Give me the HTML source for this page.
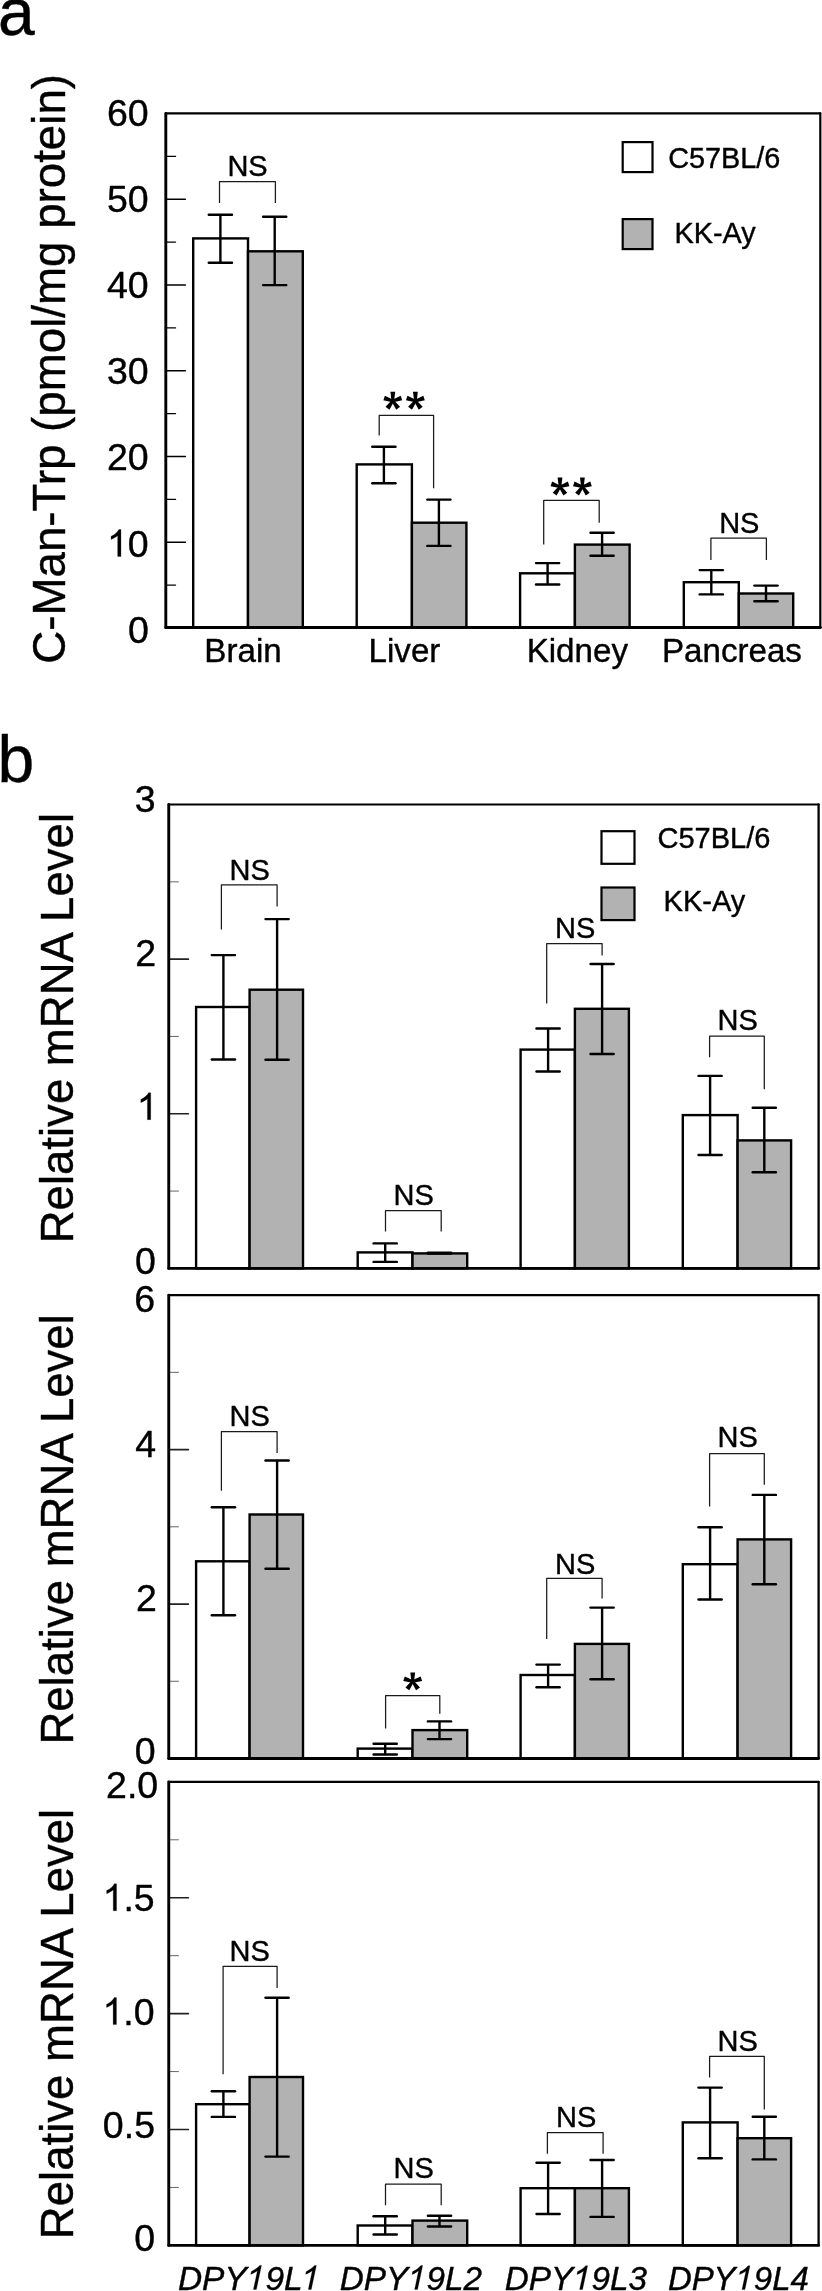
<!DOCTYPE html>
<html><head><meta charset="utf-8"><title>Figure</title>
<style>
html,body{margin:0;padding:0;background:#fff;}
body{width:822px;height:2291px;overflow:hidden;}
svg{display:block;}
svg text{font-family:"Liberation Sans",sans-serif;fill:#000;stroke:#000;stroke-width:0.4px;stroke-linejoin:round;}
</style></head>
<body>
<svg width="822" height="2291" viewBox="0 0 822 2291">
<defs><filter id="soft" x="0" y="0" width="100%" height="100%" filterUnits="userSpaceOnUse" color-interpolation-filters="sRGB"><feGaussianBlur stdDeviation="0.45"/></filter></defs>
<rect x="0" y="0" width="822" height="2291" fill="#fff"/>
<g filter="url(#soft)">
<text x="-2.00" y="35.00" font-size="66" text-anchor="start"  style="">a</text>
<text x="-2.50" y="782.20" font-size="66" text-anchor="start"  style="">b</text>
<rect x="193.20" y="238.40" width="54.80" height="389.10" fill="#fff" stroke="#000" stroke-width="2.4"/>
<rect x="248.00" y="251.30" width="54.80" height="376.20" fill="#b2b2b2" stroke="#000" stroke-width="2.4"/>
<rect x="356.70" y="464.40" width="55.20" height="163.10" fill="#fff" stroke="#000" stroke-width="2.4"/>
<rect x="411.90" y="522.70" width="54.50" height="104.80" fill="#b2b2b2" stroke="#000" stroke-width="2.4"/>
<rect x="520.10" y="573.30" width="54.80" height="54.20" fill="#fff" stroke="#000" stroke-width="2.4"/>
<rect x="574.90" y="544.60" width="54.70" height="82.90" fill="#b2b2b2" stroke="#000" stroke-width="2.4"/>
<rect x="683.80" y="582.20" width="55.00" height="45.30" fill="#fff" stroke="#000" stroke-width="2.4"/>
<rect x="738.80" y="593.50" width="54.40" height="34.00" fill="#b2b2b2" stroke="#000" stroke-width="2.4"/>
<line x1="220.40" y1="214.80" x2="220.40" y2="262.70" stroke="#000" stroke-width="2.4" />
<line x1="208.80" y1="214.80" x2="232.00" y2="214.80" stroke="#000" stroke-width="2.4" stroke-linecap="round"/>
<line x1="208.80" y1="262.70" x2="232.00" y2="262.70" stroke="#000" stroke-width="2.4" stroke-linecap="round"/>
<line x1="274.70" y1="216.80" x2="274.70" y2="285.10" stroke="#000" stroke-width="2.4" />
<line x1="263.10" y1="216.80" x2="286.30" y2="216.80" stroke="#000" stroke-width="2.4" stroke-linecap="round"/>
<line x1="263.10" y1="285.10" x2="286.30" y2="285.10" stroke="#000" stroke-width="2.4" stroke-linecap="round"/>
<line x1="383.90" y1="446.80" x2="383.90" y2="483.30" stroke="#000" stroke-width="2.4" />
<line x1="372.30" y1="446.80" x2="395.50" y2="446.80" stroke="#000" stroke-width="2.4" stroke-linecap="round"/>
<line x1="372.30" y1="483.30" x2="395.50" y2="483.30" stroke="#000" stroke-width="2.4" stroke-linecap="round"/>
<line x1="438.90" y1="499.60" x2="438.90" y2="545.90" stroke="#000" stroke-width="2.4" />
<line x1="427.30" y1="499.60" x2="450.50" y2="499.60" stroke="#000" stroke-width="2.4" stroke-linecap="round"/>
<line x1="427.30" y1="545.90" x2="450.50" y2="545.90" stroke="#000" stroke-width="2.4" stroke-linecap="round"/>
<line x1="547.60" y1="563.10" x2="547.60" y2="584.50" stroke="#000" stroke-width="2.4" />
<line x1="536.00" y1="563.10" x2="559.20" y2="563.10" stroke="#000" stroke-width="2.4" stroke-linecap="round"/>
<line x1="536.00" y1="584.50" x2="559.20" y2="584.50" stroke="#000" stroke-width="2.4" stroke-linecap="round"/>
<line x1="602.10" y1="532.70" x2="602.10" y2="555.80" stroke="#000" stroke-width="2.4" />
<line x1="590.50" y1="532.70" x2="613.70" y2="532.70" stroke="#000" stroke-width="2.4" stroke-linecap="round"/>
<line x1="590.50" y1="555.80" x2="613.70" y2="555.80" stroke="#000" stroke-width="2.4" stroke-linecap="round"/>
<line x1="711.30" y1="570.10" x2="711.30" y2="594.40" stroke="#000" stroke-width="2.4" />
<line x1="699.70" y1="570.10" x2="722.90" y2="570.10" stroke="#000" stroke-width="2.4" stroke-linecap="round"/>
<line x1="699.70" y1="594.40" x2="722.90" y2="594.40" stroke="#000" stroke-width="2.4" stroke-linecap="round"/>
<line x1="766.00" y1="585.60" x2="766.00" y2="601.30" stroke="#000" stroke-width="2.4" />
<line x1="754.40" y1="585.60" x2="777.60" y2="585.60" stroke="#000" stroke-width="2.4" stroke-linecap="round"/>
<line x1="754.40" y1="601.30" x2="777.60" y2="601.30" stroke="#000" stroke-width="2.4" stroke-linecap="round"/>
<line x1="165.80" y1="542.25" x2="185.40" y2="542.25" stroke="#000" stroke-width="1.4" stroke-linecap="round"/>
<line x1="165.80" y1="456.50" x2="185.40" y2="456.50" stroke="#000" stroke-width="1.4" stroke-linecap="round"/>
<line x1="165.80" y1="370.75" x2="185.40" y2="370.75" stroke="#000" stroke-width="1.4" stroke-linecap="round"/>
<line x1="165.80" y1="285.00" x2="185.40" y2="285.00" stroke="#000" stroke-width="1.4" stroke-linecap="round"/>
<line x1="165.80" y1="199.25" x2="185.40" y2="199.25" stroke="#000" stroke-width="1.4" stroke-linecap="round"/>
<line x1="165.80" y1="585.12" x2="175.50" y2="585.12" stroke="#000" stroke-width="1.4" stroke-linecap="round"/>
<line x1="165.80" y1="499.38" x2="175.50" y2="499.38" stroke="#000" stroke-width="1.4" stroke-linecap="round"/>
<line x1="165.80" y1="413.62" x2="175.50" y2="413.62" stroke="#000" stroke-width="1.4" stroke-linecap="round"/>
<line x1="165.80" y1="327.88" x2="175.50" y2="327.88" stroke="#000" stroke-width="1.4" stroke-linecap="round"/>
<line x1="165.80" y1="242.12" x2="175.50" y2="242.12" stroke="#000" stroke-width="1.4" stroke-linecap="round"/>
<line x1="165.80" y1="156.38" x2="175.50" y2="156.38" stroke="#000" stroke-width="1.4" stroke-linecap="round"/>
<line x1="165.80" y1="113.40" x2="820.30" y2="113.40" stroke="#000" stroke-width="2.1" stroke-linecap="round"/>
<line x1="820.30" y1="113.40" x2="820.30" y2="627.50" stroke="#000" stroke-width="2.2" stroke-linecap="round"/>
<line x1="165.80" y1="113.40" x2="165.80" y2="627.50" stroke="#000" stroke-width="2.9" stroke-linecap="round"/>
<line x1="165.80" y1="627.50" x2="820.30" y2="627.50" stroke="#000" stroke-width="3.0" stroke-linecap="round"/>
<text x="106.99" y="126.14" font-size="37.5" text-anchor="start"  style="">60</text>
<text x="106.99" y="211.94" font-size="37.5" text-anchor="start"  style="">50</text>
<text x="106.99" y="297.64" font-size="37.5" text-anchor="start"  style="">40</text>
<text x="106.99" y="383.84" font-size="37.5" text-anchor="start"  style="">30</text>
<text x="106.99" y="470.24" font-size="37.5" text-anchor="start"  style="">20</text>
<path d="M763 0H583V1147Q518 1085 412.5 1023Q307 961 223 930V1104Q374 1175 487 1276Q600 1377 647 1472H763Z" transform="translate(106.99,556.54) scale(0.01831,-0.01831)" fill="#000" stroke="#000" stroke-width="13.7"/>
<text x="127.84" y="556.54" font-size="37.5" text-anchor="start"  style="">0</text>
<text x="127.94" y="642.54" font-size="37.5" text-anchor="start"  style="">0</text>
<polyline points="219.50,203.10 219.50,181.70 275.40,181.70 275.40,203.10" fill="none" stroke="#1a1a1a" stroke-width="1.25" stroke-linejoin="round"/>
<text x="227.38" y="175.90" font-size="29" text-anchor="start"  style="">NS</text>
<polyline points="379.20,435.60 379.20,415.30 433.60,415.30 433.60,488.20" fill="none" stroke="#1a1a1a" stroke-width="1.25" stroke-linejoin="round"/>
<polygon points="394.10,400.90 395.20,391.80 390.40,391.80 391.50,400.90" fill="#000"/>
<polygon points="393.20,402.14 402.20,400.37 400.71,395.81 392.40,399.66" fill="#000"/>
<polygon points="391.75,401.66 396.21,409.67 400.09,406.85 393.85,400.14" fill="#000"/>
<polygon points="391.75,400.14 385.51,406.85 389.39,409.67 393.85,401.66" fill="#000"/>
<polygon points="393.20,399.66 384.89,395.81 383.40,400.37 392.40,402.14" fill="#000"/>
<polygon points="416.70,400.90 417.80,391.80 413.00,391.80 414.10,400.90" fill="#000"/>
<polygon points="415.80,402.14 424.80,400.37 423.31,395.81 415.00,399.66" fill="#000"/>
<polygon points="414.35,401.66 418.81,409.67 422.69,406.85 416.45,400.14" fill="#000"/>
<polygon points="414.35,400.14 408.11,406.85 411.99,409.67 416.45,401.66" fill="#000"/>
<polygon points="415.80,399.66 407.49,395.81 406.00,400.37 415.00,402.14" fill="#000"/>
<polyline points="543.70,544.60 543.70,500.30 599.20,500.30 599.20,522.70" fill="none" stroke="#1a1a1a" stroke-width="1.25" stroke-linejoin="round"/>
<polygon points="561.30,486.70 562.40,477.60 557.60,477.60 558.70,486.70" fill="#000"/>
<polygon points="560.40,487.94 569.40,486.17 567.91,481.61 559.60,485.46" fill="#000"/>
<polygon points="558.95,487.46 563.41,495.47 567.29,492.65 561.05,485.94" fill="#000"/>
<polygon points="558.95,485.94 552.71,492.65 556.59,495.47 561.05,487.46" fill="#000"/>
<polygon points="560.40,485.46 552.09,481.61 550.60,486.17 559.60,487.94" fill="#000"/>
<polygon points="583.70,486.70 584.80,477.60 580.00,477.60 581.10,486.70" fill="#000"/>
<polygon points="582.80,487.94 591.80,486.17 590.31,481.61 582.00,485.46" fill="#000"/>
<polygon points="581.35,487.46 585.81,495.47 589.69,492.65 583.45,485.94" fill="#000"/>
<polygon points="581.35,485.94 575.11,492.65 578.99,495.47 583.45,487.46" fill="#000"/>
<polygon points="582.80,485.46 574.49,481.61 573.00,486.17 582.00,487.94" fill="#000"/>
<polyline points="710.90,560.10 710.90,538.20 766.40,538.20 766.40,560.10" fill="none" stroke="#1a1a1a" stroke-width="1.25" stroke-linejoin="round"/>
<text x="719.18" y="532.60" font-size="29" text-anchor="start"  style="">NS</text>
<rect x="622.7" y="142.1" width="29.8" height="30" fill="#fff" stroke="#000" stroke-width="2.2"/>
<rect x="622.7" y="219.1" width="29.8" height="30" fill="#b2b2b2" stroke="#000" stroke-width="2.2"/>
<text x="668.16" y="167.90" font-size="28.8" text-anchor="start"  style="">C57BL/6</text>
<text x="674.50" y="243.00" font-size="28.8" text-anchor="start"  style="">KK-Ay</text>
<text x="204.35" y="662.40" font-size="33.15" text-anchor="start"  style="">Brain</text>
<text x="368.55" y="662.40" font-size="33.15" text-anchor="start"  style="">Liver</text>
<text x="526.65" y="662.40" font-size="33.15" text-anchor="start"  style="">Kidney</text>
<text x="661.95" y="662.40" font-size="33.15" text-anchor="start"  style="">Pancreas</text>
<text transform="translate(65.3,663.78) rotate(-90)" font-size="45.7">C-Man-Trp (pmol/mg protein)</text>
<rect x="196.10" y="1007.00" width="53.50" height="261.40" fill="#fff" stroke="#000" stroke-width="2.4"/>
<rect x="249.60" y="989.70" width="53.40" height="278.70" fill="#b2b2b2" stroke="#000" stroke-width="2.4"/>
<rect x="357.70" y="1252.40" width="54.80" height="16.00" fill="#fff" stroke="#000" stroke-width="2.4"/>
<rect x="412.50" y="1253.40" width="54.70" height="15.00" fill="#b2b2b2" stroke="#000" stroke-width="2.4"/>
<rect x="520.60" y="1049.60" width="54.30" height="218.80" fill="#fff" stroke="#000" stroke-width="2.4"/>
<rect x="574.90" y="1008.80" width="54.00" height="259.60" fill="#b2b2b2" stroke="#000" stroke-width="2.4"/>
<rect x="682.80" y="1115.10" width="54.80" height="153.30" fill="#fff" stroke="#000" stroke-width="2.4"/>
<rect x="737.60" y="1140.40" width="53.50" height="128.00" fill="#b2b2b2" stroke="#000" stroke-width="2.4"/>
<line x1="223.40" y1="955.10" x2="223.40" y2="1059.50" stroke="#000" stroke-width="2.4" />
<line x1="211.80" y1="955.10" x2="235.00" y2="955.10" stroke="#000" stroke-width="2.4" stroke-linecap="round"/>
<line x1="211.80" y1="1059.50" x2="235.00" y2="1059.50" stroke="#000" stroke-width="2.4" stroke-linecap="round"/>
<line x1="277.10" y1="919.10" x2="277.10" y2="1059.80" stroke="#000" stroke-width="2.4" />
<line x1="265.50" y1="919.10" x2="288.70" y2="919.10" stroke="#000" stroke-width="2.4" stroke-linecap="round"/>
<line x1="265.50" y1="1059.80" x2="288.70" y2="1059.80" stroke="#000" stroke-width="2.4" stroke-linecap="round"/>
<line x1="385.20" y1="1243.40" x2="385.20" y2="1261.90" stroke="#000" stroke-width="2.4" />
<line x1="373.60" y1="1243.40" x2="396.80" y2="1243.40" stroke="#000" stroke-width="2.4" stroke-linecap="round"/>
<line x1="373.60" y1="1261.90" x2="396.80" y2="1261.90" stroke="#000" stroke-width="2.4" stroke-linecap="round"/>
<line x1="439.50" y1="1252.60" x2="439.50" y2="1253.60" stroke="#000" stroke-width="2.4" />
<line x1="427.90" y1="1252.60" x2="451.10" y2="1252.60" stroke="#000" stroke-width="2.4" stroke-linecap="round"/>
<line x1="427.90" y1="1253.60" x2="451.10" y2="1253.60" stroke="#000" stroke-width="2.4" stroke-linecap="round"/>
<line x1="548.10" y1="1028.50" x2="548.10" y2="1071.50" stroke="#000" stroke-width="2.4" />
<line x1="536.50" y1="1028.50" x2="559.70" y2="1028.50" stroke="#000" stroke-width="2.4" stroke-linecap="round"/>
<line x1="536.50" y1="1071.50" x2="559.70" y2="1071.50" stroke="#000" stroke-width="2.4" stroke-linecap="round"/>
<line x1="602.10" y1="964.00" x2="602.10" y2="1054.00" stroke="#000" stroke-width="2.4" />
<line x1="590.50" y1="964.00" x2="613.70" y2="964.00" stroke="#000" stroke-width="2.4" stroke-linecap="round"/>
<line x1="590.50" y1="1054.00" x2="613.70" y2="1054.00" stroke="#000" stroke-width="2.4" stroke-linecap="round"/>
<line x1="710.10" y1="1075.90" x2="710.10" y2="1155.00" stroke="#000" stroke-width="2.4" />
<line x1="698.50" y1="1075.90" x2="721.70" y2="1075.90" stroke="#000" stroke-width="2.4" stroke-linecap="round"/>
<line x1="698.50" y1="1155.00" x2="721.70" y2="1155.00" stroke="#000" stroke-width="2.4" stroke-linecap="round"/>
<line x1="764.30" y1="1107.80" x2="764.30" y2="1172.30" stroke="#000" stroke-width="2.4" />
<line x1="752.70" y1="1107.80" x2="775.90" y2="1107.80" stroke="#000" stroke-width="2.4" stroke-linecap="round"/>
<line x1="752.70" y1="1172.30" x2="775.90" y2="1172.30" stroke="#000" stroke-width="2.4" stroke-linecap="round"/>
<line x1="168.75" y1="1113.77" x2="188.35" y2="1113.77" stroke="#222" stroke-width="1.7" stroke-linecap="round"/>
<line x1="168.75" y1="959.13" x2="188.35" y2="959.13" stroke="#222" stroke-width="1.7" stroke-linecap="round"/>
<line x1="168.75" y1="1191.08" x2="178.45" y2="1191.08" stroke="#555" stroke-width="0.9" stroke-linecap="round"/>
<line x1="168.75" y1="1036.45" x2="178.45" y2="1036.45" stroke="#555" stroke-width="0.9" stroke-linecap="round"/>
<line x1="168.75" y1="881.82" x2="178.45" y2="881.82" stroke="#555" stroke-width="0.9" stroke-linecap="round"/>
<line x1="168.75" y1="804.50" x2="818.60" y2="804.50" stroke="#000" stroke-width="2.1" stroke-linecap="round"/>
<line x1="818.60" y1="804.50" x2="818.60" y2="1268.40" stroke="#000" stroke-width="2.3" stroke-linecap="round"/>
<line x1="168.75" y1="804.50" x2="168.75" y2="1268.40" stroke="#000" stroke-width="2.9" stroke-linecap="round"/>
<line x1="168.75" y1="1268.40" x2="818.60" y2="1268.40" stroke="#000" stroke-width="2.9" stroke-linecap="round"/>
<text x="134.64" y="811.54" font-size="37.5" text-anchor="start"  style="">3</text>
<text x="135.14" y="965.54" font-size="37.5" text-anchor="start"  style="">2</text>
<path d="M763 0H583V1147Q518 1085 412.5 1023Q307 961 223 930V1104Q374 1175 487 1276Q600 1377 647 1472H763Z" transform="translate(136.74,1119.64) scale(0.01831,-0.01831)" fill="#000" stroke="#000" stroke-width="13.7"/>
<text x="134.94" y="1273.74" font-size="37.5" text-anchor="start"  style="">0</text>
<text transform="translate(72.8,1243.34) rotate(-90)" font-size="45.55">Relative mRNA Level</text>
<polyline points="221.40,929.60 221.40,884.80 277.10,884.80 277.10,906.50" fill="none" stroke="#1a1a1a" stroke-width="1.25" stroke-linejoin="round"/>
<text x="229.58" y="879.70" font-size="29" text-anchor="start"  style="">NS</text>
<polyline points="385.50,1231.50 385.50,1210.50 441.20,1210.50 441.20,1231.50" fill="none" stroke="#1a1a1a" stroke-width="1.25" stroke-linejoin="round"/>
<text x="393.58" y="1204.70" font-size="29" text-anchor="start"  style="">NS</text>
<polyline points="546.70,1003.40 546.70,943.60 602.10,943.60 602.10,955.50" fill="none" stroke="#1a1a1a" stroke-width="1.25" stroke-linejoin="round"/>
<text x="555.08" y="938.20" font-size="29" text-anchor="start"  style="">NS</text>
<polyline points="709.60,1057.20 709.60,1036.00 764.30,1036.00 764.30,1089.30" fill="none" stroke="#1a1a1a" stroke-width="1.25" stroke-linejoin="round"/>
<text x="717.48" y="1030.20" font-size="29" text-anchor="start"  style="">NS</text>
<rect x="601.5" y="831.2" width="33" height="32.6" fill="#fff" stroke="#000" stroke-width="2.2"/>
<rect x="601.5" y="887.5" width="33" height="32.6" fill="#b2b2b2" stroke="#000" stroke-width="2.2"/>
<text x="657.55" y="848.00" font-size="29" text-anchor="start"  style="">C57BL/6</text>
<text x="663.58" y="911.30" font-size="29" text-anchor="start"  style="">KK-Ay</text>
<rect x="196.10" y="1561.30" width="53.50" height="197.20" fill="#fff" stroke="#000" stroke-width="2.4"/>
<rect x="249.60" y="1514.50" width="53.40" height="244.00" fill="#b2b2b2" stroke="#000" stroke-width="2.4"/>
<rect x="357.70" y="1748.60" width="54.80" height="9.90" fill="#fff" stroke="#000" stroke-width="2.4"/>
<rect x="412.50" y="1730.10" width="54.70" height="28.40" fill="#b2b2b2" stroke="#000" stroke-width="2.4"/>
<rect x="520.60" y="1675.00" width="54.30" height="83.50" fill="#fff" stroke="#000" stroke-width="2.4"/>
<rect x="574.90" y="1643.90" width="54.00" height="114.60" fill="#b2b2b2" stroke="#000" stroke-width="2.4"/>
<rect x="682.80" y="1564.20" width="54.80" height="194.30" fill="#fff" stroke="#000" stroke-width="2.4"/>
<rect x="737.60" y="1539.40" width="53.50" height="219.10" fill="#b2b2b2" stroke="#000" stroke-width="2.4"/>
<line x1="223.40" y1="1507.30" x2="223.40" y2="1615.30" stroke="#000" stroke-width="2.4" />
<line x1="211.80" y1="1507.30" x2="235.00" y2="1507.30" stroke="#000" stroke-width="2.4" stroke-linecap="round"/>
<line x1="211.80" y1="1615.30" x2="235.00" y2="1615.30" stroke="#000" stroke-width="2.4" stroke-linecap="round"/>
<line x1="277.10" y1="1460.50" x2="277.10" y2="1568.80" stroke="#000" stroke-width="2.4" />
<line x1="265.50" y1="1460.50" x2="288.70" y2="1460.50" stroke="#000" stroke-width="2.4" stroke-linecap="round"/>
<line x1="265.50" y1="1568.80" x2="288.70" y2="1568.80" stroke="#000" stroke-width="2.4" stroke-linecap="round"/>
<line x1="385.20" y1="1743.70" x2="385.20" y2="1754.50" stroke="#000" stroke-width="2.4" />
<line x1="373.60" y1="1743.70" x2="396.80" y2="1743.70" stroke="#000" stroke-width="2.4" stroke-linecap="round"/>
<line x1="373.60" y1="1754.50" x2="396.80" y2="1754.50" stroke="#000" stroke-width="2.4" stroke-linecap="round"/>
<line x1="439.50" y1="1721.40" x2="439.50" y2="1739.10" stroke="#000" stroke-width="2.4" />
<line x1="427.90" y1="1721.40" x2="451.10" y2="1721.40" stroke="#000" stroke-width="2.4" stroke-linecap="round"/>
<line x1="427.90" y1="1739.10" x2="451.10" y2="1739.10" stroke="#000" stroke-width="2.4" stroke-linecap="round"/>
<line x1="548.10" y1="1664.60" x2="548.10" y2="1687.20" stroke="#000" stroke-width="2.4" />
<line x1="536.50" y1="1664.60" x2="559.70" y2="1664.60" stroke="#000" stroke-width="2.4" stroke-linecap="round"/>
<line x1="536.50" y1="1687.20" x2="559.70" y2="1687.20" stroke="#000" stroke-width="2.4" stroke-linecap="round"/>
<line x1="602.10" y1="1607.60" x2="602.10" y2="1679.20" stroke="#000" stroke-width="2.4" />
<line x1="590.50" y1="1607.60" x2="613.70" y2="1607.60" stroke="#000" stroke-width="2.4" stroke-linecap="round"/>
<line x1="590.50" y1="1679.20" x2="613.70" y2="1679.20" stroke="#000" stroke-width="2.4" stroke-linecap="round"/>
<line x1="710.10" y1="1527.30" x2="710.10" y2="1599.50" stroke="#000" stroke-width="2.4" />
<line x1="698.50" y1="1527.30" x2="721.70" y2="1527.30" stroke="#000" stroke-width="2.4" stroke-linecap="round"/>
<line x1="698.50" y1="1599.50" x2="721.70" y2="1599.50" stroke="#000" stroke-width="2.4" stroke-linecap="round"/>
<line x1="764.30" y1="1494.90" x2="764.30" y2="1584.20" stroke="#000" stroke-width="2.4" />
<line x1="752.70" y1="1494.90" x2="775.90" y2="1494.90" stroke="#000" stroke-width="2.4" stroke-linecap="round"/>
<line x1="752.70" y1="1584.20" x2="775.90" y2="1584.20" stroke="#000" stroke-width="2.4" stroke-linecap="round"/>
<line x1="168.75" y1="1604.03" x2="188.35" y2="1604.03" stroke="#222" stroke-width="1.7" stroke-linecap="round"/>
<line x1="168.75" y1="1449.57" x2="188.35" y2="1449.57" stroke="#222" stroke-width="1.7" stroke-linecap="round"/>
<line x1="168.75" y1="1681.27" x2="178.45" y2="1681.27" stroke="#555" stroke-width="0.9" stroke-linecap="round"/>
<line x1="168.75" y1="1526.80" x2="178.45" y2="1526.80" stroke="#555" stroke-width="0.9" stroke-linecap="round"/>
<line x1="168.75" y1="1372.33" x2="178.45" y2="1372.33" stroke="#555" stroke-width="0.9" stroke-linecap="round"/>
<line x1="168.75" y1="1295.10" x2="818.60" y2="1295.10" stroke="#000" stroke-width="2.1" stroke-linecap="round"/>
<line x1="818.60" y1="1295.10" x2="818.60" y2="1758.50" stroke="#000" stroke-width="2.3" stroke-linecap="round"/>
<line x1="168.75" y1="1295.10" x2="168.75" y2="1758.50" stroke="#000" stroke-width="2.9" stroke-linecap="round"/>
<line x1="168.75" y1="1758.50" x2="818.60" y2="1758.50" stroke="#000" stroke-width="2.9" stroke-linecap="round"/>
<text x="134.14" y="1312.14" font-size="37.5" text-anchor="start"  style="">6</text>
<text x="135.34" y="1456.94" font-size="37.5" text-anchor="start"  style="">4</text>
<text x="136.04" y="1610.94" font-size="37.5" text-anchor="start"  style="">2</text>
<text x="134.84" y="1764.14" font-size="37.5" text-anchor="start"  style="">0</text>
<text transform="translate(72.8,1744.54) rotate(-90)" font-size="45.55">Relative mRNA Level</text>
<polyline points="221.40,1490.70 221.40,1431.60 277.10,1431.60 277.10,1453.00" fill="none" stroke="#1a1a1a" stroke-width="1.25" stroke-linejoin="round"/>
<text x="229.58" y="1426.20" font-size="29" text-anchor="start"  style="">NS</text>
<polyline points="385.60,1728.40 385.60,1695.50 439.80,1695.50 439.80,1713.80" fill="none" stroke="#1a1a1a" stroke-width="1.25" stroke-linejoin="round"/>
<polygon points="414.00,1681.60 415.10,1672.50 410.30,1672.50 411.40,1681.60" fill="#000"/>
<polygon points="413.10,1682.84 422.10,1681.07 420.61,1676.51 412.30,1680.36" fill="#000"/>
<polygon points="411.65,1682.36 416.11,1690.37 419.99,1687.55 413.75,1680.84" fill="#000"/>
<polygon points="411.65,1680.84 405.41,1687.55 409.29,1690.37 413.75,1682.36" fill="#000"/>
<polygon points="413.10,1680.36 404.79,1676.51 403.30,1681.07 412.30,1682.84" fill="#000"/>
<polyline points="546.70,1639.00 546.70,1578.40 602.10,1578.40 602.10,1598.40" fill="none" stroke="#1a1a1a" stroke-width="1.25" stroke-linejoin="round"/>
<text x="555.08" y="1573.60" font-size="29" text-anchor="start"  style="">NS</text>
<polyline points="709.60,1506.60 709.60,1453.50 764.30,1453.50 764.30,1484.70" fill="none" stroke="#1a1a1a" stroke-width="1.25" stroke-linejoin="round"/>
<text x="717.48" y="1447.40" font-size="29" text-anchor="start"  style="">NS</text>
<rect x="196.10" y="2104.20" width="53.50" height="141.20" fill="#fff" stroke="#000" stroke-width="2.4"/>
<rect x="249.60" y="2077.00" width="53.40" height="168.40" fill="#b2b2b2" stroke="#000" stroke-width="2.4"/>
<rect x="357.70" y="2225.50" width="54.80" height="19.90" fill="#fff" stroke="#000" stroke-width="2.4"/>
<rect x="412.50" y="2220.60" width="54.70" height="24.80" fill="#b2b2b2" stroke="#000" stroke-width="2.4"/>
<rect x="520.60" y="2188.20" width="54.30" height="57.20" fill="#fff" stroke="#000" stroke-width="2.4"/>
<rect x="574.90" y="2188.20" width="54.00" height="57.20" fill="#b2b2b2" stroke="#000" stroke-width="2.4"/>
<rect x="682.80" y="2122.40" width="54.80" height="123.00" fill="#fff" stroke="#000" stroke-width="2.4"/>
<rect x="737.60" y="2138.20" width="53.50" height="107.20" fill="#b2b2b2" stroke="#000" stroke-width="2.4"/>
<line x1="223.40" y1="2091.30" x2="223.40" y2="2116.90" stroke="#000" stroke-width="2.4" />
<line x1="211.80" y1="2091.30" x2="235.00" y2="2091.30" stroke="#000" stroke-width="2.4" stroke-linecap="round"/>
<line x1="211.80" y1="2116.90" x2="235.00" y2="2116.90" stroke="#000" stroke-width="2.4" stroke-linecap="round"/>
<line x1="277.10" y1="1997.70" x2="277.10" y2="2156.60" stroke="#000" stroke-width="2.4" />
<line x1="265.50" y1="1997.70" x2="288.70" y2="1997.70" stroke="#000" stroke-width="2.4" stroke-linecap="round"/>
<line x1="265.50" y1="2156.60" x2="288.70" y2="2156.60" stroke="#000" stroke-width="2.4" stroke-linecap="round"/>
<line x1="385.20" y1="2216.30" x2="385.20" y2="2234.50" stroke="#000" stroke-width="2.4" />
<line x1="373.60" y1="2216.30" x2="396.80" y2="2216.30" stroke="#000" stroke-width="2.4" stroke-linecap="round"/>
<line x1="373.60" y1="2234.50" x2="396.80" y2="2234.50" stroke="#000" stroke-width="2.4" stroke-linecap="round"/>
<line x1="439.50" y1="2215.80" x2="439.50" y2="2226.50" stroke="#000" stroke-width="2.4" />
<line x1="427.90" y1="2215.80" x2="451.10" y2="2215.80" stroke="#000" stroke-width="2.4" stroke-linecap="round"/>
<line x1="427.90" y1="2226.50" x2="451.10" y2="2226.50" stroke="#000" stroke-width="2.4" stroke-linecap="round"/>
<line x1="548.10" y1="2162.70" x2="548.10" y2="2214.00" stroke="#000" stroke-width="2.4" />
<line x1="536.50" y1="2162.70" x2="559.70" y2="2162.70" stroke="#000" stroke-width="2.4" stroke-linecap="round"/>
<line x1="536.50" y1="2214.00" x2="559.70" y2="2214.00" stroke="#000" stroke-width="2.4" stroke-linecap="round"/>
<line x1="602.10" y1="2160.00" x2="602.10" y2="2216.90" stroke="#000" stroke-width="2.4" />
<line x1="590.50" y1="2160.00" x2="613.70" y2="2160.00" stroke="#000" stroke-width="2.4" stroke-linecap="round"/>
<line x1="590.50" y1="2216.90" x2="613.70" y2="2216.90" stroke="#000" stroke-width="2.4" stroke-linecap="round"/>
<line x1="710.10" y1="2087.60" x2="710.10" y2="2158.20" stroke="#000" stroke-width="2.4" />
<line x1="698.50" y1="2087.60" x2="721.70" y2="2087.60" stroke="#000" stroke-width="2.4" stroke-linecap="round"/>
<line x1="698.50" y1="2158.20" x2="721.70" y2="2158.20" stroke="#000" stroke-width="2.4" stroke-linecap="round"/>
<line x1="764.30" y1="2116.80" x2="764.30" y2="2159.40" stroke="#000" stroke-width="2.4" />
<line x1="752.70" y1="2116.80" x2="775.90" y2="2116.80" stroke="#000" stroke-width="2.4" stroke-linecap="round"/>
<line x1="752.70" y1="2159.40" x2="775.90" y2="2159.40" stroke="#000" stroke-width="2.4" stroke-linecap="round"/>
<line x1="168.75" y1="2129.51" x2="188.35" y2="2129.51" stroke="#222" stroke-width="1.7" stroke-linecap="round"/>
<line x1="168.75" y1="2013.62" x2="188.35" y2="2013.62" stroke="#222" stroke-width="1.7" stroke-linecap="round"/>
<line x1="168.75" y1="1897.74" x2="188.35" y2="1897.74" stroke="#222" stroke-width="1.7" stroke-linecap="round"/>
<line x1="168.75" y1="2187.46" x2="178.45" y2="2187.46" stroke="#555" stroke-width="0.9" stroke-linecap="round"/>
<line x1="168.75" y1="2071.57" x2="178.45" y2="2071.57" stroke="#555" stroke-width="0.9" stroke-linecap="round"/>
<line x1="168.75" y1="1955.68" x2="178.45" y2="1955.68" stroke="#555" stroke-width="0.9" stroke-linecap="round"/>
<line x1="168.75" y1="1839.79" x2="178.45" y2="1839.79" stroke="#555" stroke-width="0.9" stroke-linecap="round"/>
<line x1="168.75" y1="1781.85" x2="818.60" y2="1781.85" stroke="#000" stroke-width="2.1" stroke-linecap="round"/>
<line x1="818.60" y1="1781.85" x2="818.60" y2="2245.40" stroke="#000" stroke-width="2.3" stroke-linecap="round"/>
<line x1="168.75" y1="1781.85" x2="168.75" y2="2245.40" stroke="#000" stroke-width="2.9" stroke-linecap="round"/>
<line x1="168.75" y1="2245.40" x2="818.60" y2="2245.40" stroke="#000" stroke-width="2.9" stroke-linecap="round"/>
<text x="106.07" y="1798.14" font-size="37.5" text-anchor="start"  style="">2.0</text>
<path d="M763 0H583V1147Q518 1085 412.5 1023Q307 961 223 930V1104Q374 1175 487 1276Q600 1377 647 1472H763Z" transform="translate(102.57,1910.74) scale(0.01831,-0.01831)" fill="#000" stroke="#000" stroke-width="13.7"/>
<text x="123.43" y="1910.74" font-size="37.5" text-anchor="start"  style="">.5</text>
<path d="M763 0H583V1147Q518 1085 412.5 1023Q307 961 223 930V1104Q374 1175 487 1276Q600 1377 647 1472H763Z" transform="translate(102.47,2024.54) scale(0.01831,-0.01831)" fill="#000" stroke="#000" stroke-width="13.7"/>
<text x="123.33" y="2024.54" font-size="37.5" text-anchor="start"  style="">.0</text>
<text x="102.87" y="2137.64" font-size="37.5" text-anchor="start"  style="">0.5</text>
<text x="134.24" y="2251.24" font-size="37.5" text-anchor="start"  style="">0</text>
<text transform="translate(72.8,2239.14) rotate(-90)" font-size="45.55">Relative mRNA Level</text>
<polyline points="223.10,2074.30 223.10,1966.30 277.10,1966.30 277.10,1987.90" fill="none" stroke="#1a1a1a" stroke-width="1.25" stroke-linejoin="round"/>
<text x="229.58" y="1960.60" font-size="29" text-anchor="start"  style="">NS</text>
<polyline points="385.50,2205.30 385.50,2184.10 441.20,2184.10 441.20,2205.30" fill="none" stroke="#1a1a1a" stroke-width="1.25" stroke-linejoin="round"/>
<text x="393.58" y="2178.10" font-size="29" text-anchor="start"  style="">NS</text>
<polyline points="547.40,2153.70 547.40,2132.50 603.10,2132.50 603.10,2153.70" fill="none" stroke="#1a1a1a" stroke-width="1.25" stroke-linejoin="round"/>
<text x="555.98" y="2127.40" font-size="29" text-anchor="start"  style="">NS</text>
<polyline points="709.60,2077.40 709.60,2056.40 764.30,2056.40 764.30,2109.50" fill="none" stroke="#1a1a1a" stroke-width="1.25" stroke-linejoin="round"/>
<text x="717.48" y="2050.60" font-size="29" text-anchor="start"  style="">NS</text>
<text x="177.90" y="2289.50" font-size="33.5" text-anchor="start"  style="font-style:italic">DPY</text>
<path d="M763 0H583V1147Q518 1085 412.5 1023Q307 961 223 930V1104Q374 1175 487 1276Q600 1377 647 1472H763Z" transform="translate(243.88,2289.50) skewX(-12) scale(0.01636,-0.01636)" fill="#000" stroke="#000" stroke-width="15.3"/>
<text x="265.41" y="2289.50" font-size="33.5" text-anchor="start"  style="font-style:italic">9L</text>
<path d="M763 0H583V1147Q518 1085 412.5 1023Q307 961 223 930V1104Q374 1175 487 1276Q600 1377 647 1472H763Z" transform="translate(298.77,2289.50) skewX(-12) scale(0.01636,-0.01636)" fill="#000" stroke="#000" stroke-width="15.3"/>
<text x="339.70" y="2289.50" font-size="33.25" text-anchor="start"  style="font-style:italic">DPY</text>
<path d="M763 0H583V1147Q518 1085 412.5 1023Q307 961 223 930V1104Q374 1175 487 1276Q600 1377 647 1472H763Z" transform="translate(405.17,2289.50) skewX(-12) scale(0.01624,-0.01624)" fill="#000" stroke="#000" stroke-width="15.4"/>
<text x="426.56" y="2289.50" font-size="33.25" text-anchor="start"  style="font-style:italic">9L2</text>
<text x="504.80" y="2289.50" font-size="33.2" text-anchor="start"  style="font-style:italic">DPY</text>
<path d="M763 0H583V1147Q518 1085 412.5 1023Q307 961 223 930V1104Q374 1175 487 1276Q600 1377 647 1472H763Z" transform="translate(570.17,2289.50) skewX(-12) scale(0.01621,-0.01621)" fill="#000" stroke="#000" stroke-width="15.4"/>
<text x="591.53" y="2289.50" font-size="33.2" text-anchor="start"  style="font-style:italic">9L3</text>
<text x="667.91" y="2289.50" font-size="32.9" text-anchor="start"  style="font-style:italic">DPY</text>
<path d="M763 0H583V1147Q518 1085 412.5 1023Q307 961 223 930V1104Q374 1175 487 1276Q600 1377 647 1472H763Z" transform="translate(732.66,2289.50) skewX(-12) scale(0.01606,-0.01606)" fill="#000" stroke="#000" stroke-width="15.6"/>
<text x="753.86" y="2289.50" font-size="32.9" text-anchor="start"  style="font-style:italic">9L4</text>
</g>
</svg>
</body></html>
